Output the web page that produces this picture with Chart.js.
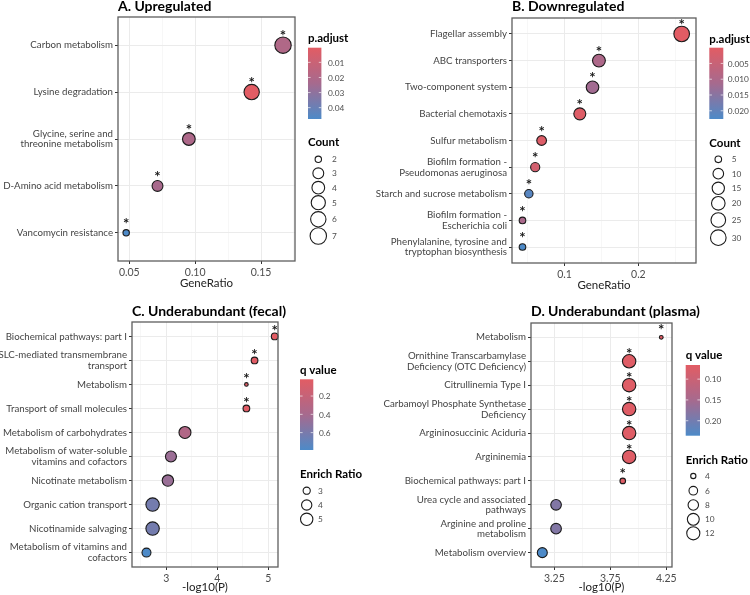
<!DOCTYPE html>
<html>
<head>
<meta charset="utf-8">
<script src="https://cdn.jsdelivr.net/npm/chart.js@4.4.1/dist/chart.umd.min.js"></script>
<style>
  body { margin: 0; background: #fff; }
  #wrap { position: relative; width: 750px; height: 595px; overflow: hidden; }
  canvas { position: absolute; }
</style>
</head>
<body>
<div id="wrap">
  <canvas id="cA" width="375" height="290" style="left:0;top:0"></canvas>
  <canvas id="cB" width="375" height="290" style="left:375px;top:0"></canvas>
  <canvas id="cC" width="375" height="305" style="left:0;top:290px"></canvas>
  <canvas id="cD" width="375" height="305" style="left:375px;top:290px"></canvas>
</div>
<script>
// A. Upregulated (GeneRatio, Count, p.adjust)
const upTerms = ['Carbon metabolism', 'Lysine degradation', ['Glycine, serine and', 'threonine metabolism'],
  'D-Amino acid metabolism', 'Vancomycin resistance'];
const upRatio = [0.1667, 0.1429, 0.0952, 0.0714, 0.0476];
const upCount = [7, 6, 4, 3, 2];
const upPadj = [0.020, 0.0003, 0.021, 0.023, 0.0475];
const upStar = [true, true, true, true, true];
const upXTicks = [0.05, 0.10, 0.15];
const upXLabels = ['0.05', '0.10', '0.15'];
const upPadjTicks = [0.01, 0.02, 0.03, 0.04];
const upPadjLabels = ['0.01', '0.02', '0.03', '0.04'];
const upCountKeys = [2, 3, 4, 5, 6, 7];

// B. Downregulated
const downTerms = ['Flagellar assembly', 'ABC transporters', 'Two-component system', 'Bacterial chemotaxis',
  'Sulfur metabolism', ['Biofilm formation -', 'Pseudomonas aeruginosa'], 'Starch and sucrose metabolism',
  ['Biofilm formation -', 'Escherichia coli'], ['Phenylalanine, tyrosine and', 'tryptophan biosynthesis']];
const downRatio = [0.2586, 0.1466, 0.1379, 0.1207, 0.0690, 0.0603, 0.0517, 0.0431, 0.0431];
const downCount = [30, 17, 16, 14, 8, 7, 6, 5, 5];
const downPadj = [0.00002, 0.0100, 0.0118, 0.0008, 0.0010, 0.0030, 0.0212, 0.0105, 0.0226];
const downStar = [true, true, true, true, true, true, true, true, true];
const downXTicks = [0.1, 0.2];
const downXLabels = ['0.1', '0.2'];
const downPadjTicks = [0.005, 0.010, 0.015, 0.020];
const downPadjLabels = ['0.005', '0.010', '0.015', '0.020'];
const downCountKeys = [5, 10, 15, 20, 25, 30];

// C. Underabundant (fecal)
const fecalTerms = ['Biochemical pathways: part I', ['SLC-mediated transmembrane', 'transport'], 'Metabolism',
  'Transport of small molecules', 'Metabolism of carbohydrates', ['Metabolism of water-soluble', 'vitamins and cofactors'],
  'Nicotinate metabolism', 'Organic cation transport', 'Nicotinamide salvaging', ['Metabolism of vitamins and', 'cofactors']];
const fecalLogP = [5.125, 4.73, 4.57, 4.57, 3.365, 3.09, 3.03, 2.73, 2.73, 2.61];
const fecalEnrich = [2.9, 2.9, 2.6, 2.9, 4.8, 4.3, 4.5, 5.6, 5.6, 3.5];
const fecalQ = [0.017, 0.03, 0.03, 0.03, 0.33, 0.45, 0.46, 0.62, 0.62, 0.79];
const fecalStar = [true, true, true, true, false, false, false, false, false, false];
const fecalXTicks = [3, 4, 5];
const fecalXLabels = ['3', '4', '5'];
const fecalQTicks = [0.2, 0.4, 0.6];
const fecalQLabels = ['0.2', '0.4', '0.6'];
const fecalEnrichKeys = [3, 4, 5];

// D. Underabundant (plasma)
const plasmaTerms = ['Metabolism', ['Ornithine Transcarbamylase', 'Deficiency (OTC Deficiency)'], 'Citrullinemia Type I',
  ['Carbamoyl Phosphate Synthetase', 'Deficiency'], 'Argininosuccinic Aciduria', 'Argininemia',
  'Biochemical pathways: part I', ['Urea cycle and associated', 'pathways'], ['Arginine and proline', 'metabolism'],
  'Metabolism overview'];
const plasmaLogP = [4.205, 3.918, 3.918, 3.918, 3.918, 3.918, 3.861, 3.265, 3.265, 3.142];
const plasmaEnrich = [3.8, 12.5, 12.5, 12.5, 12.5, 12.5, 4.1, 8.2, 8.2, 7.4];
const plasmaQ = [0.066, 0.07, 0.07, 0.07, 0.07, 0.07, 0.07, 0.185, 0.185, 0.236];
const plasmaStar = [true, true, true, true, true, true, true, false, false, false];
const plasmaXTicks = [3.25, 3.75, 4.25];
const plasmaXLabels = ['3.25', '3.75', '4.25'];
const plasmaQTicks = [0.10, 0.15, 0.20];
const plasmaQLabels = ['0.10', '0.15', '0.20'];
const plasmaEnrichKeys = [4, 6, 8, 10, 12];

const FONT = 'Lato, sans-serif';
Chart.defaults.font.family = FONT;

// red (low) -> mauve -> blue (high)
const LOW = [226, 92, 100], MID = [166, 106, 142], HIGH = [77, 138, 200];
function mix(a, b, t) { return a.map((v, i) => Math.round(v + (b[i] - v) * t)); }
function colourAt(t) {
  t = Math.max(0, Math.min(1, t));
  const c = t < 0.5 ? mix(LOW, MID, t * 2) : mix(MID, HIGH, (t - 0.5) * 2);
  return 'rgb(' + c.join(',') + ')';
}
function radiusFor(v, lo, hi, rMin, rMax) {
  return rMin + Math.sqrt((v - lo) / (hi - lo)) * (rMax - rMin);
}

const panelPlugin = {
  id: 'panel',
  afterDraw(chart, args, o) {
    const { ctx, chartArea: a } = chart;
    const x = chart.scales.x, y = chart.scales.y;
    ctx.save();

    ctx.strokeStyle = '#5e5e5e';
    ctx.lineWidth = 1.3;
    ctx.strokeRect(a.left, a.top, a.right - a.left, a.bottom - a.top);

    // significance asterisks
    ctx.fillStyle = '#1a1a1a';
    ctx.font = 'bold 15px ' + FONT;
    ctx.textAlign = 'center';
    ctx.textBaseline = 'alphabetic';
    o.xs.forEach((v, i) => {
      if (o.stars[i]) ctx.fillText('*', x.getPixelForValue(v), y.getPixelForValue(i) - o.starGap + 8.5);
    });

    ctx.fillStyle = '#000';
    ctx.textAlign = 'left';
    ctx.textBaseline = 'middle';
    ctx.font = 'bold 14px ' + FONT;
    ctx.fillText(o.title, a.left, o.titleY);

    ctx.textAlign = 'center';
    ctx.font = '11.5px ' + FONT;
    ctx.fillStyle = '#222';
    ctx.fillText(o.xTitle, (a.left + a.right) / 2, o.xTitleY);

    // colour bar legend
    const L = o.legend;
    ctx.textAlign = 'left';
    ctx.fillStyle = '#000';
    ctx.font = 'bold 11.5px ' + FONT;
    ctx.fillText(L.colTitle, L.x, L.colTitleY);
    const g = ctx.createLinearGradient(0, L.barY, 0, L.barY + L.barH);
    for (let k = 0; k <= 10; k++) g.addColorStop(k / 10, colourAt(k / 10));
    ctx.fillStyle = g;
    ctx.fillRect(L.x, L.barY, L.barW, L.barH);
    ctx.font = '8.3px ' + FONT;
    L.ticks.forEach((v, i) => {
      const ty = L.barY + (v - o.colLo) / (o.colHi - o.colLo) * L.barH;
      ctx.strokeStyle = 'rgba(255,255,255,0.8)';
      ctx.lineWidth = 0.8;
      ctx.beginPath();
      ctx.moveTo(L.x, ty); ctx.lineTo(L.x + 2.6, ty);
      ctx.moveTo(L.x + L.barW - 2.6, ty); ctx.lineTo(L.x + L.barW, ty);
      ctx.stroke();
      ctx.fillStyle = '#4d4d4d';
      ctx.fillText(L.tickLabels[i], L.labelX, ty + 0.5);
    });

    // size legend
    ctx.fillStyle = '#000';
    ctx.font = 'bold 11.5px ' + FONT;
    ctx.fillText(L.sizeTitle, L.x, L.sizeTitleY);
    ctx.font = '8.3px ' + FONT;
    L.keys.forEach((v, i) => {
      const r = radiusFor(v, o.sizeLo, o.sizeHi, o.rMin, o.rMax);
      ctx.beginPath();
      ctx.arc(L.keyX, L.keyY[i], Math.max(r, 1), 0, Math.PI * 2);
      ctx.fillStyle = '#fff';
      ctx.fill();
      ctx.strokeStyle = '#1a1a1a';
      ctx.lineWidth = 1.1;
      ctx.stroke();
      ctx.fillStyle = '#4d4d4d';
      ctx.fillText(String(v), L.keyLabelX, L.keyY[i] + 0.5);
    });
    ctx.restore();
  }
};

function makePanel(id, p) {
  const n = p.terms.length;
  const sizeLo = Math.min(...p.sizes), sizeHi = Math.max(...p.sizes);
  const colLo = Math.min(...p.cols), colHi = Math.max(...p.cols);
  const step = p.xTicks[1] - p.xTicks[0];
  const gridVals = [];
  for (let v = p.xTicks[0] - step; v <= p.xMax + 1e-9; v += step / 2) {
    if (v >= p.xMin - 1e-9) gridVals.push(+v.toFixed(6));
  }
  const isMajor = v => p.xTicks.some(t => Math.abs(t - v) < 1e-6);
  const labelFor = v => {
    const k = p.xTicks.findIndex(t => Math.abs(t - v) < 1e-6);
    return k < 0 ? '' : p.xLabels[k];
  };

  return new Chart(document.getElementById(id), {
    type: 'scatter',
    data: {
      datasets: [{
        data: p.xs.map((v, i) => ({ x: v, y: i })),
        pointRadius: p.sizes.map(s => radiusFor(s, sizeLo, sizeHi, p.rMin, p.rMax)),
        pointBackgroundColor: p.cols.map(c => colourAt((c - colLo) / (colHi - colLo))),
        pointBorderColor: '#1a1a1a',
        pointBorderWidth: 1.1,
        clip: false
      }]
    },
    options: {
      responsive: false,
      animation: false,
      devicePixelRatio: 1,
      events: [],
      layout: { padding: p.pad },
      plugins: {
        legend: { display: false },
        tooltip: { enabled: false },
        panel: {
          xs: p.xs, stars: p.stars, starGap: p.starGap,
          title: p.title, titleY: p.titleY, xTitle: p.xTitle, xTitleY: p.xTitleY,
          colLo, colHi, sizeLo, sizeHi, rMin: p.rMin, rMax: p.rMax, legend: p.legend
        }
      },
      scales: {
        x: {
          type: 'linear', min: p.xMin, max: p.xMax,
          afterBuildTicks: s => { s.ticks = gridVals.map(v => ({ value: v })); },
          afterFit: s => { s.height = p.xH; },
          ticks: {
            autoSkip: false, maxRotation: 0, padding: 2,
            color: '#4d4d4d', font: { size: 10.5 },
            callback: v => labelFor(v)
          },
          grid: {
            color: c => isMajor(c.tick.value) ? '#ebebeb' : '#f3f3f3',
            lineWidth: c => isMajor(c.tick.value) ? 1 : 0.7,
            tickColor: c => isMajor(c.tick.value) ? '#333' : 'rgba(0,0,0,0)',
            tickLength: 3
          },
          border: { display: false }
        },
        y: {
          type: 'linear', reverse: true, min: -0.6, max: n - 0.4,
          afterBuildTicks: s => { s.ticks = p.terms.map((t, i) => ({ value: i })); },
          afterFit: s => { s.width = p.yW; },
          ticks: {
            autoSkip: false, padding: 2,
            color: '#444', font: { size: 9.7, lineHeight: 1.1 },
            callback: v => p.terms[v]
          },
          grid: { color: '#ebebeb', lineWidth: 1, tickColor: '#333', tickLength: 3 },
          border: { display: false }
        }
      }
    },
    plugins: [panelPlugin]
  });
}

makePanel('cA', {
  terms: upTerms, xs: upRatio, sizes: upCount, cols: upPadj, stars: upStar,
  xMin: 0.0414, xMax: 0.1758, xTicks: upXTicks, xLabels: upXLabels,
  pad: { left: 0, right: 80, top: 17, bottom: 0 }, yW: 118, xH: 29,
  rMin: 3.2, rMax: 8.2, starGap: 12.5,
  title: 'A. Upregulated', titleY: 6, xTitle: 'GeneRatio', xTitleY: 283,
  legend: {
    x: 308, colTitle: 'p.adjust', colTitleY: 38, barY: 47.7, barW: 13.4, barH: 71.3, labelX: 328,
    ticks: upPadjTicks, tickLabels: upPadjLabels,
    sizeTitle: 'Count', sizeTitleY: 142, keys: upCountKeys,
    keyX: 318.3, keyY: [159.3, 173.3, 187.7, 202.7, 219.3, 236], keyLabelX: 332
  }
});

makePanel('cB', {
  terms: downTerms, xs: downRatio, sizes: downCount, cols: downPadj, stars: downStar,
  xMin: 0.0289, xMax: 0.278, xTicks: downXTicks, xLabels: downXLabels,
  pad: { left: 0, right: 54, top: 18, bottom: 0 }, yW: 137, xH: 27,
  rMin: 3.3, rMax: 7.8, starGap: 12.3,
  title: 'B. Downregulated', titleY: 6, xTitle: 'GeneRatio', xTitleY: 285,
  legend: {
    x: 334.3, colTitle: 'p.adjust', colTitleY: 39.3, barY: 47.7, barW: 14, barH: 71.3, labelX: 352.7,
    ticks: downPadjTicks, tickLabels: downPadjLabels,
    sizeTitle: 'Count', sizeTitleY: 143.3, keys: downCountKeys,
    keyX: 343.3, keyY: [159.3, 173.7, 188.3, 203.3, 220, 237.7], keyLabelX: 356.7
  }
});

makePanel('cC', {
  terms: fecalTerms, xs: fecalLogP, sizes: fecalEnrich, cols: fecalQ, stars: fecalStar,
  xMin: 2.326, xMax: 5.19, xTicks: fecalXTicks, xLabels: fecalXLabels,
  pad: { left: 0, right: 97, top: 32, bottom: 0 }, yW: 132, xH: 28,
  rMin: 1.8, rMax: 6.7, starGap: 8.7,
  title: 'C. Underabundant (fecal)', titleY: 21.7, xTitle: '-log10(P)', xTitleY: 297.7,
  legend: {
    x: 300, colTitle: 'q value', colTitleY: 80, barY: 89.3, barW: 13.3, barH: 70.7, labelX: 319,
    ticks: fecalQTicks, tickLabels: fecalQLabels,
    sizeTitle: 'Enrich Ratio', sizeTitleY: 184, keys: fecalEnrichKeys,
    keyX: 306.7, keyY: [200.7, 215, 229.3], keyLabelX: 318
  }
});

makePanel('cD', {
  terms: plasmaTerms, xs: plasmaLogP, sizes: plasmaEnrich, cols: plasmaQ, stars: plasmaStar,
  xMin: 3.041, xMax: 4.301, xTicks: plasmaXTicks, xLabels: plasmaXLabels,
  pad: { left: 0, right: 78, top: 33, bottom: 0 }, yW: 156, xH: 28,
  rMin: 1.9, rMax: 6.7, starGap: 10.5,
  title: 'D. Underabundant (plasma)', titleY: 21.7, xTitle: '-log10(P)', xTitleY: 297.7,
  legend: {
    x: 310.7, colTitle: 'q value', colTitleY: 65.7, barY: 75, barW: 14.3, barH: 70.7, labelX: 330,
    ticks: plasmaQTicks, tickLabels: plasmaQLabels,
    sizeTitle: 'Enrich Ratio', sizeTitleY: 170, keys: plasmaEnrichKeys,
    keyX: 318.3, keyY: [186, 200.7, 215, 229.3, 243.3], keyLabelX: 330
  }
});
</script>
</body>
</html>
